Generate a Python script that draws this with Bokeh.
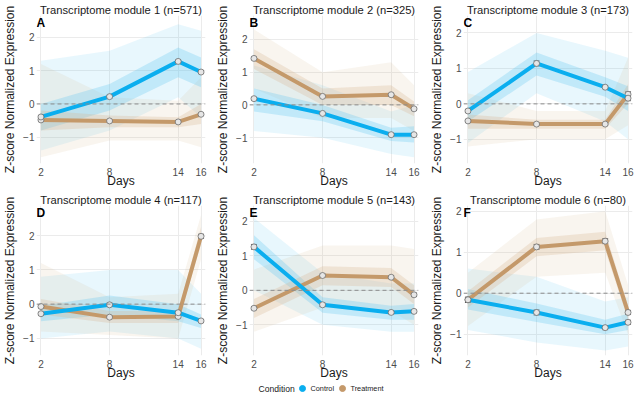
from bokeh.plotting import figure
from bokeh.models import (ColumnDataSource, Whisker, TeeHead, Span, Label,
                          FixedTicker, Range1d)
from bokeh.core.properties import value
from bokeh.layouts import row, column
from bokeh.embed import file_html
from bokeh.resources import INLINE

# ---- data -------------------------------------------------------------
days = [2, 8, 14, 16]
titles = ["Transcriptome module 1 (n=571)", "Transcriptome module 2 (n=325)",
          "Transcriptome module 3 (n=173)", "Transcriptome module 4 (n=117)",
          "Transcriptome module 5 (n=143)", "Transcriptome module 6 (n=80)"]
tags = ["A", "B", "C", "D", "E", "F"]
conditions = ["Control", "Treatment"]

# module mean z-scores per day
ctrl_mean = [[-0.39, 0.22, 1.28, 0.96],
             [0.19, -0.26, -0.91, -0.91],
             [-0.20, 1.14, 0.47, 0.16],
             [-0.28, -0.02, -0.25, -0.49],
             [1.26, -0.42, -0.64, -0.61],
             [-0.16, -0.47, -0.84, -0.71]]
trt_mean = [[-0.48, -0.51, -0.54, -0.31],
            [1.42, 0.26, 0.31, -0.12],
            [-0.48, -0.57, -0.57, 0.27],
            [-0.07, -0.38, -0.36, 1.98],
            [-0.52, 0.43, 0.38, -0.13],
            [-0.16, 1.13, 1.27, -0.47]]
# standard errors of the means
ctrl_se = [[0.04, 0.04, 0.04, 0.04],
           [0.04, 0.03, 0.03, 0.03],
           [0.04, 0.07, 0.04, 0.07],
           [0.04, 0.05, 0.05, 0.04],
           [0.07, 0.05, 0.04, 0.04],
           [0.06, 0.06, 0.05, 0.05]]
trt_se = [[0.03, 0.03, 0.03, 0.03],
          [0.04, 0.03, 0.03, 0.04],
          [0.03, 0.03, 0.03, 0.07],
          [0.04, 0.03, 0.04, 0.06],
          [0.04, 0.04, 0.04, 0.05],
          [0.06, 0.06, 0.06, 0.05]]
# spread of the individual gene profiles: full range and central bulk
ctrl_lo = [[-1.4, -0.8, 0.2, -0.4], [-0.8, -1.0, -1.5, -1.6], [-1.1, 0.3, -0.5, -1.0],
           [-1.0, -0.8, -1.0, -1.3], [0.0, -1.0, -1.2, -1.2], [-0.9, -1.2, -1.4, -1.3]]
ctrl_hi = [[1.3, 1.6, 2.4, 2.2], [1.2, 0.6, -0.2, 0.0], [0.9, 2.0, 1.5, 1.3],
           [0.8, 1.0, 1.0, 0.3], [2.1, 0.5, 0.2, 0.2], [0.6, 0.4, -0.2, -0.1]]
ctrl_q1 = [[-0.8, -0.2, 0.8, 0.5], [-0.2, -0.5, -1.1, -1.15], [-0.5, 0.8, 0.2, -0.2],
           [-0.5, -0.3, -0.5, -0.7], [0.9, -0.65, -0.85, -0.85], [-0.4, -0.7, -1.0, -0.9]]
ctrl_q3 = [[0.0, 0.6, 1.7, 1.4], [0.5, 0.0, -0.7, -0.65], [0.1, 1.45, 0.75, 0.5],
           [-0.05, 0.25, 0.0, -0.3], [1.6, -0.2, -0.45, -0.4], [0.1, -0.25, -0.65, -0.5]]
trt_lo = [[-1.6, -1.1, -1.1, -1.3], [0.5, -0.4, -0.4, -0.8], [-1.2, -1.0, -1.0, -0.6],
          [-0.8, -0.9, -1.0, 1.3], [-1.2, -0.5, -0.6, -1.0], [-0.8, 0.4, 0.5, -1.0]]
trt_hi = [[1.2, 0.2, 0.1, 0.8], [2.3, 1.0, 1.3, 0.6], [0.3, -0.2, -0.2, 1.3],
          [1.2, 0.2, 0.3, 2.6], [0.6, 1.3, 1.3, 1.2], [0.5, 1.8, 2.0, 0.2]]
trt_q1 = [[-0.8, -0.7, -0.7, -0.6], [1.1, 0.0, 0.0, -0.35], [-0.7, -0.7, -0.7, 0.0],
          [-0.3, -0.55, -0.55, 1.75], [-0.8, 0.15, 0.1, -0.4], [-0.35, 0.9, 1.05, -0.65]]
trt_q3 = [[-0.2, -0.35, -0.4, 0.0], [1.7, 0.5, 0.6, 0.1], [-0.3, -0.45, -0.45, 0.55],
          [0.15, -0.2, -0.2, 2.25], [-0.25, 0.7, 0.65, 0.15], [0.05, 1.35, 1.5, -0.3]]

# ---- styling ----------------------------------------------------------
BLUE = "#0AAEEF"
TAN = "#C4996A"
BLUE_SOFT = "#5CC6F2"
TAN_SOFT = "#D8B590"
FONT = "Liberation Sans"

y_ranges = [(-1.79, 2.66), (-1.79, 2.73), (-1.68, 2.49),
            (-1.50, 2.88), (-1.89, 2.46), (-1.52, 2.14)]
col_widths = [213, 214, 213]


def make_panel(i, height, bottom):
    w = col_widths[i % 3]
    ymin, ymax = y_ranges[i]
    p = figure(width=w, height=height, x_range=Range1d(1.61, 16.39),
               y_range=Range1d(ymin, ymax), output_backend="svg",
               toolbar_location=None, title=titles[i],
               min_border_left=34, min_border_right=w - 34 - 171,
               min_border_top=15, min_border_bottom=bottom)
    p.outline_line_color = None
    p.background_fill_color = "white"
    p.border_fill_color = "white"

    p.title.align = "center"
    p.title.text_font = FONT
    p.title.text_font_size = "11.2px"
    p.title.text_font_style = "normal"
    p.title.text_color = "#1a1a1a"
    p.title.standoff = 0

    p.xaxis.ticker = FixedTicker(ticks=days)
    p.yaxis.ticker = FixedTicker(ticks=[-1, 0, 1, 2])
    p.yaxis.major_label_overrides = {-1: "\u22121"}
    p.xaxis.axis_label = "Days"
    p.yaxis.axis_label = "Z-score Normalized Expression"
    for ax in (p.xaxis[0], p.yaxis[0]):
        ax.axis_line_color = None
        ax.major_tick_line_color = None
        ax.minor_tick_line_color = None
        ax.major_tick_out = 0
        ax.major_tick_in = 0
        ax.minor_tick_out = 0
        ax.minor_tick_in = 0
        ax.major_label_text_font = FONT
        ax.major_label_text_font_size = "10px"
        ax.major_label_text_color = "#4d4d4d"
        ax.axis_label_text_font = FONT
        ax.axis_label_text_font_size = "12px"
        ax.axis_label_text_font_style = "normal"
        ax.axis_label_text_color = "#1a1a1a"
    p.xaxis.major_label_standoff = 4
    p.xaxis.axis_label_standoff = -5
    p.yaxis.major_label_standoff = 2
    p.yaxis.axis_label_standoff = 3
    p.xgrid.grid_line_color = "#ebebeb"
    p.ygrid.grid_line_color = "#ebebeb"

    # spread of gene profiles
    p.varea(x=days, y1=ctrl_lo[i], y2=ctrl_hi[i], fill_color=BLUE_SOFT, fill_alpha=0.14)
    p.varea(x=days, y1=trt_lo[i], y2=trt_hi[i], fill_color=TAN_SOFT, fill_alpha=0.14)
    p.varea(x=days, y1=ctrl_q1[i], y2=ctrl_q3[i], fill_color=BLUE_SOFT, fill_alpha=0.28)
    p.varea(x=days, y1=trt_q1[i], y2=trt_q3[i], fill_color=TAN_SOFT, fill_alpha=0.28)

    p.add_layout(Span(location=0, dimension="width", line_color="#8c8c8c",
                      line_dash="4 3", line_width=1))

    for mean, se, color in ((trt_mean[i], trt_se[i], TAN), (ctrl_mean[i], ctrl_se[i], BLUE)):
        p.line(days, mean, line_color=color, line_width=4)
        src = ColumnDataSource(dict(x=days, y=mean,
                                    upper=[m + s for m, s in zip(mean, se)],
                                    lower=[m - s for m, s in zip(mean, se)]))
        p.scatter("x", "y", source=src, marker="circle", size=6,
                  fill_color="#e6e6e6", line_color="#6e6e6e", line_width=0.8)
        p.add_layout(Whisker(base="x", upper="upper", lower="lower", source=src,
                             line_color="#333333", line_width=0.8,
                             upper_head=TeeHead(size=6, line_color="#333333", line_width=0.8),
                             lower_head=TeeHead(size=6, line_color="#333333", line_width=0.8)))

    # panel tag in the top-left corner of the plotting area
    p.add_layout(Label(x=1.61, y=ymax, text=tags[i], text_font=FONT,
                       text_font_size="12px", text_font_style="bold",
                       text_align="left", text_baseline="top",
                       text_color="#000000"))
    return p


top = [make_panel(i, 190, 26) for i in range(3)]
bottom = [make_panel(i, 192, 25) for i in range(3, 6)]

# full-width legend strip; x range is given in page pixels
leg = figure(width=640, height=12, output_backend="svg", toolbar_location=None,
             x_range=Range1d(0, 640), y_range=Range1d(0, 12),
             min_border_left=0, min_border_right=0, min_border_top=0, min_border_bottom=0)
leg.axis.visible = False
leg.grid.visible = False
leg.outline_line_color = None
leg.background_fill_color = "white"
leg.border_fill_color = "white"
key_y = 6
leg.text(x=[258], y=[key_y], text=["Condition"], text_font=value(FONT),
         text_font_size="8.6px", text_baseline="middle", text_color="#1a1a1a")
leg.scatter(x=[302, 342], y=[key_y, key_y], marker="circle", size=6,
            fill_color=[BLUE, TAN], line_color=[BLUE, TAN])
leg.text(x=[310, 350], y=[key_y, key_y], text=conditions, text_font=value(FONT),
         text_font_size="7.3px", text_baseline="middle", text_color="#1a1a1a")

layout = column(row(*top), row(*bottom), leg)

open("out.html", "w").write(file_html(layout, INLINE))
